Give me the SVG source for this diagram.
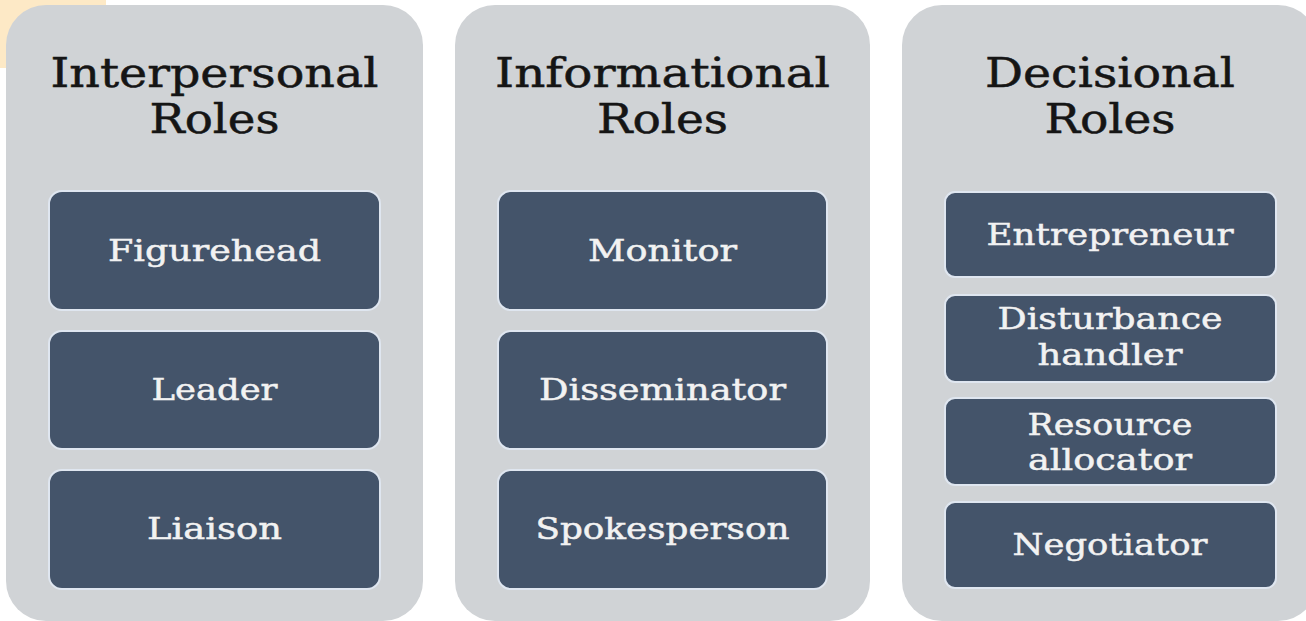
<svg xmlns="http://www.w3.org/2000/svg" width="1306" height="621" viewBox="0 0 1306 621">
<style>
.panel{fill:#d0d3d6}
.box{fill:#44546a;stroke:#dfe6f0;stroke-width:2}
.title{font-family:"DejaVu Serif","Liberation Serif",serif;font-size:41px;fill:#151515;stroke:#151515;stroke-width:0.5;text-anchor:middle}
.lbl{font-family:"DejaVu Serif","Liberation Serif",serif;font-size:30px;fill:#f2f2f2;stroke:#f2f2f2;stroke-width:0.5;text-anchor:middle}
</style>
<rect x="0" y="0" width="1306" height="621" fill="#ffffff"/>
<rect x="0" y="0" width="106" height="68" fill="#fde9c6"/>
<g id="panel-interpersonal">
<rect class="panel" x="6" y="5" width="417" height="616" rx="40"/>
<text class="title" x="214.5" y="87" textLength="328" lengthAdjust="spacingAndGlyphs">Interpersonal</text>
<text class="title" x="214.5" y="133" textLength="130" lengthAdjust="spacingAndGlyphs">Roles</text>
</g>
<g id="node-figurehead">
<rect class="box" x="49" y="191" width="331" height="119" rx="13"/>
<text class="lbl" x="214.5" y="261" textLength="213" lengthAdjust="spacingAndGlyphs">Figurehead</text>
</g>
<g id="node-leader">
<rect class="box" x="49" y="331" width="331" height="118" rx="13"/>
<text class="lbl" x="214.5" y="400" textLength="126" lengthAdjust="spacingAndGlyphs">Leader</text>
</g>
<g id="node-liaison">
<rect class="box" x="49" y="470" width="331" height="119" rx="13"/>
<text class="lbl" x="214.5" y="539" textLength="135" lengthAdjust="spacingAndGlyphs">Liaison</text>
</g>
<g id="panel-informational">
<rect class="panel" x="455" y="5" width="415" height="616" rx="40"/>
<text class="title" x="662.5" y="87" textLength="335" lengthAdjust="spacingAndGlyphs">Informational</text>
<text class="title" x="662.5" y="133" textLength="131" lengthAdjust="spacingAndGlyphs">Roles</text>
</g>
<g id="node-monitor">
<rect class="box" x="498" y="191" width="329" height="119" rx="13"/>
<text class="lbl" x="662.5" y="261" textLength="149" lengthAdjust="spacingAndGlyphs">Monitor</text>
</g>
<g id="node-disseminator">
<rect class="box" x="498" y="331" width="329" height="118" rx="13"/>
<text class="lbl" x="662.5" y="400" textLength="247" lengthAdjust="spacingAndGlyphs">Disseminator</text>
</g>
<g id="node-spokesperson">
<rect class="box" x="498" y="470" width="329" height="119" rx="13"/>
<text class="lbl" x="662.5" y="539" textLength="254" lengthAdjust="spacingAndGlyphs">Spokesperson</text>
</g>
<g id="panel-decisional">
<rect class="panel" x="902" y="5" width="416" height="616" rx="40"/>
<text class="title" x="1110" y="87" textLength="250" lengthAdjust="spacingAndGlyphs">Decisional</text>
<text class="title" x="1110" y="133" textLength="131" lengthAdjust="spacingAndGlyphs">Roles</text>
</g>
<g id="node-entrepreneur">
<rect class="box" x="945" y="192" width="331" height="85" rx="10"/>
<text class="lbl" x="1110" y="245" textLength="247" lengthAdjust="spacingAndGlyphs">Entrepreneur</text>
</g>
<g id="node-disturbance">
<rect class="box" x="945" y="295" width="331" height="87" rx="10"/>
<text class="lbl" x="1110" y="329" textLength="225" lengthAdjust="spacingAndGlyphs">Disturbance</text>
<text class="lbl" x="1110" y="365" textLength="145" lengthAdjust="spacingAndGlyphs">handler</text>
</g>
<g id="node-resource">
<rect class="box" x="945" y="398" width="331" height="87" rx="10"/>
<text class="lbl" x="1110" y="435" textLength="165" lengthAdjust="spacingAndGlyphs">Resource</text>
<text class="lbl" x="1110" y="470" textLength="164" lengthAdjust="spacingAndGlyphs">allocator</text>
</g>
<g id="node-negotiator">
<rect class="box" x="945" y="502" width="331" height="86" rx="10"/>
<text class="lbl" x="1110" y="555" textLength="195" lengthAdjust="spacingAndGlyphs">Negotiator</text>
</g>
<g id="connectors"/>
</svg>
